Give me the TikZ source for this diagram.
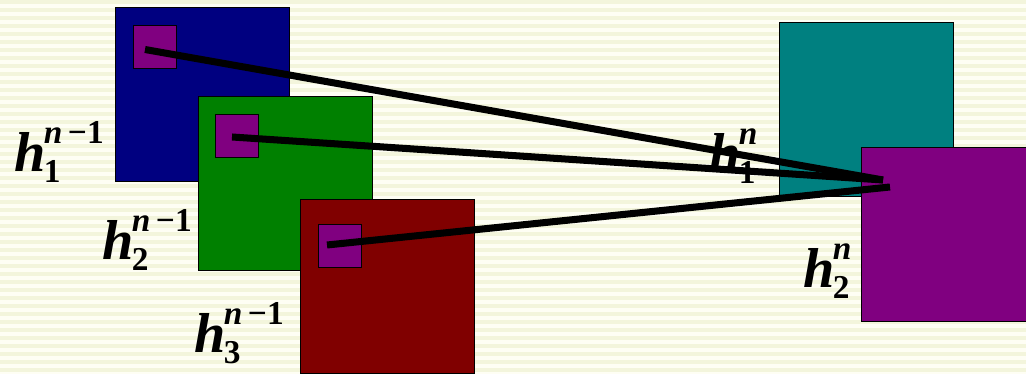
\documentclass[tikz,border=0pt]{standalone}
\usepackage{fontspec}
\setmainfont{Liberation Serif}
\usetikzlibrary{positioning}
\definecolor{paper}{HTML}{FEFEF4}
\definecolor{stripe}{HTML}{F3F5DC}
\definecolor{navy}{HTML}{000080}
\definecolor{leafgreen}{HTML}{008000}
\definecolor{maroon}{HTML}{800000}
\definecolor{tealbox}{HTML}{008080}
\definecolor{unitpurple}{HTML}{800080}
\newcommand{\hname}[2]{h\kern-1pt\rlap{\raisebox{-5.7pt}{\fontsize{19}{19}\selectfont\upshape #2}}\raisebox{16.5pt}{\fontsize{19}{19}\selectfont #1}}

\begin{document}
\begin{tikzpicture}[x=0.02cm, y=-0.02cm,
    layer/.style = {draw, minimum size=3.48cm, inner sep=0pt},
    unit/.style = {draw, fill=unitpurple, minimum size=0.86cm, inner sep=0pt},
    lab/.style = {font=\fontsize{32}{38}\selectfont\bfseries\itshape, inner sep=0pt, anchor=base west},
    link/.style = {line width=4pt}]
    \useasboundingbox (0,0) rectangle (1026,374);
    \clip (0,0) rectangle (1026,374);
    \fill[paper] (0,0) rectangle (1026,374);
    \foreach \y in {0,8,...,368}
        \fill[stripe] (0,\y) rectangle (1026,\y+4);

    \node[layer, fill=navy] (L1) at (202.5,94) {};
    \node[unit] (u1) at (154.5,46.5) {};
    \node[layer, fill=leafgreen] (L2) at (285,183) {};
    \node[unit] (u2) at (236.5,135.5) {};
    \node[layer, fill=maroon] (L3) at (387.5,286) {};
    \node[unit] (u3) at (339.5,245.5) {};

    \node[layer, fill=tealbox] (M1) at (866,109.5) {};
    \node[layer, fill=unitpurple] (M2) at (948,234) {};

    \node[lab] (h1) at (14,172) {\hname{\itshape n\upshape\,−1}{1}};
    \node[lab] (h2) at (102,260) {\hname{\itshape n\upshape\,−1}{2}};
    \node[lab] (h3) at (194,353) {\hname{\itshape n\upshape\,−1}{3}};
    \node[lab] (g1) at (709,173) {\hname{\itshape n}{1}};
    \node[lab] (g2) at (803,288) {\hname{\itshape n}{2}};

    \coordinate (s1) at ([shift={(-9.5,3)}]u1.center);
    \coordinate (s2) at ([shift={(-4.5,1.5)}]u2.center);
    \coordinate (s3) at ([shift={(-12.5,-0.5)}]u3.center);
    \coordinate (t1) at ([shift={(-65,-54)}]M2.center);
    \coordinate (t2) at ([shift={(-58,-47)}]M2.center);

    \path[link] (s1) edge (t1);
    \path[link] (s2) edge (t1);
    \path[link] (s3) edge (t2);
\end{tikzpicture}
\end{document}
